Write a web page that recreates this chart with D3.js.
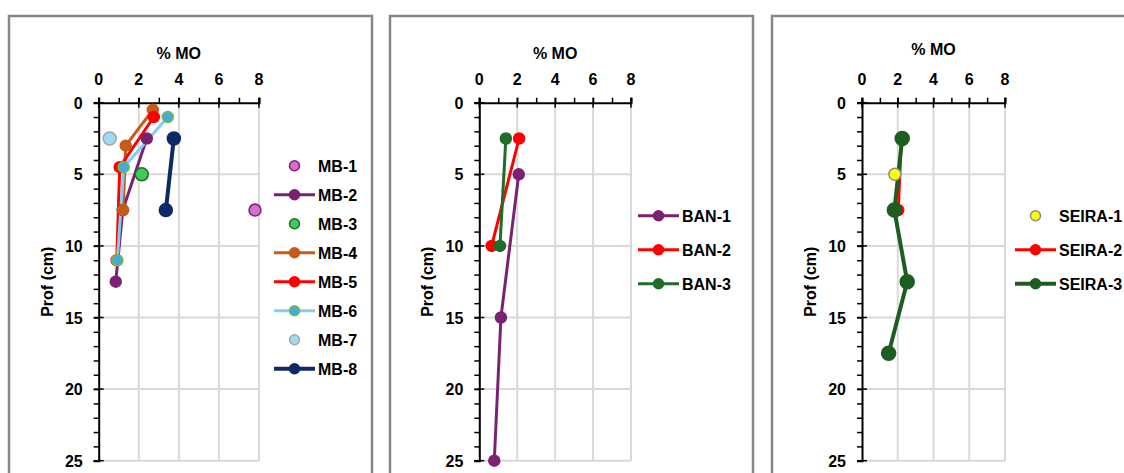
<!DOCTYPE html>
<html>
<head>
<meta charset="utf-8">
<script src="https://cdn.jsdelivr.net/npm/d3@7"></script>
<style>
  body { margin: 0; background: #fff; }
  svg { display: block; font-family: "Liberation Sans", Arial, sans-serif; font-weight: bold; }
</style>
</head>
<body>
<svg width="1124" height="473"></svg>
<script>
// axis ticks
const moTicks = [0, 2, 4, 6, 8];
const depthTicks = [0, 5, 10, 15, 20, 25];

// [ % MO, depth cm ]
const mb1 = [[7.8, 7.5]];
const mb2 = [[2.4, 2.5], [1.2, 7.5], [0.85, 12.5]];
const mb3 = [[2.15, 5.0]];
const mb4 = [[2.7, 0.5], [1.35, 3.0], [1.22, 7.5]];
const mb5 = [[2.75, 1.0], [1.05, 4.5], [0.9, 11.0]];
const mb6 = [[3.45, 1.0], [1.25, 4.5], [0.93, 11.0]];
const mb7 = [[0.55, 2.5]];
const mb8 = [[3.75, 2.5], [3.35, 7.5]];

const ban1 = [[2.08, 5.0], [1.14, 15.0], [0.79, 25.0]];
const ban2 = [[2.1, 2.5], [0.65, 10.0]];
const ban3 = [[1.4, 2.5], [1.09, 10.0]];

const seira1 = [[1.84, 5.0]];
const seira2 = [[2.2, 2.5], [2.03, 7.5]];
const seira3 = [[2.25, 2.5], [1.81, 7.5], [2.53, 12.5], [1.49, 17.5]];

const panels = [
  {
    box: {x: 9, y: 16, w: 363, h: 480},
    plot: {x0: 98.7, x1: 259, y0: 102.7, y1: 460.7},
    titleY: 58.5,
    legend: {x: 274, y: 165.7, step: 29},
    series: [
      {name: 'MB-1', data: mb1, line: null, fill: '#d36fcf', edge: '#7b2171', r: 6},
      {name: 'MB-2', data: mb2, line: '#7b2171', fill: '#7b2171', edge: '#7b2171', r: 5.5, w: 3},
      {name: 'MB-3', data: mb3, line: null, fill: '#3fcb5a', edge: '#1e6e2a', r: 6.5},
      {name: 'MB-4', data: mb4, line: '#c55a1a', fill: '#c55a1a', edge: '#c55a1a', r: 5.5, w: 3},
      {name: 'MB-5', data: mb5, line: '#ff0000', fill: '#ff0000', edge: '#ff0000', r: 5.5, w: 3},
      {name: 'MB-6', data: mb6, line: '#84cdee', fill: '#48a8dc', edge: '#6cc04a', r: 5.5, w: 3},
      {name: 'MB-7', data: mb7, line: null, fill: '#9fdaf2', edge: '#a6a6a6', r: 6.5},
      {name: 'MB-8', data: mb8, line: '#0c2a66', fill: '#0c2a66', edge: '#0c2a66', r: 6.5, w: 4}
    ]
  },
  {
    box: {x: 390, y: 16, w: 363, h: 480},
    plot: {x0: 479.3, x1: 631, y0: 102.7, y1: 460.7},
    titleY: 58.5,
    legend: {x: 638, y: 215.7, step: 34},
    series: [
      {name: 'BAN-1', data: ban1, line: '#7b2171', fill: '#7b2171', edge: '#7b2171', r: 5.5, w: 3},
      {name: 'BAN-2', data: ban2, line: '#ff0000', fill: '#ff0000', edge: '#ff0000', r: 5.5, w: 3},
      {name: 'BAN-3', data: ban3, line: '#1e6e2a', fill: '#1e6e2a', edge: '#1e6e2a', r: 5.5, w: 3}
    ]
  },
  {
    box: {x: 772, y: 16, w: 380, h: 480},
    plot: {x0: 862, x1: 1005, y0: 102.7, y1: 460.7},
    titleY: 55,
    legend: {x: 1015, y: 215.7, step: 34},
    series: [
      {name: 'SEIRA-1', data: seira1, line: null, fill: '#ffff00', edge: '#8c8c8c', r: 6},
      {name: 'SEIRA-2', data: seira2, line: '#ff0000', fill: '#ff0000', edge: '#ff0000', r: 5.5, w: 3},
      {name: 'SEIRA-3', data: seira3, line: '#1d5e20', fill: '#1d5e20', edge: '#1d5e20', r: 7, w: 4}
    ]
  }
];

const svg = d3.select('svg');

panels.forEach(p => {
  svg.append('rect')
    .attr('x', p.box.x).attr('y', p.box.y)
    .attr('width', p.box.w).attr('height', p.box.h)
    .attr('fill', 'none').attr('stroke', '#878787').attr('stroke-width', 2.5);

  const x = d3.scaleLinear().domain([0, 8]).range([p.plot.x0, p.plot.x1]);
  const y = d3.scaleLinear().domain([0, 25]).range([p.plot.y0, p.plot.y1]);
  const g = svg.append('g');

  // gridlines
  g.selectAll('.vgrid').data(moTicks.slice(1)).enter().append('line')
    .attr('x1', d => x(d)).attr('x2', d => x(d))
    .attr('y1', y(0)).attr('y2', y(25))
    .attr('stroke', '#d9d9d9').attr('stroke-width', 2);
  g.selectAll('.hgrid').data(depthTicks.slice(1)).enter().append('line')
    .attr('x1', x(0)).attr('x2', x(8))
    .attr('y1', d => y(d)).attr('y2', d => y(d))
    .attr('stroke', '#d9d9d9').attr('stroke-width', 2);

  // minor ticks (outside only)
  const xAxisMinor = d3.axisTop(x).tickValues(d3.range(0, 9, 1)).tickSize(5).tickFormat('');
  const yAxisMinor = d3.axisLeft(y).tickValues(d3.range(0, 26, 1)).tickSize(5).tickFormat('');
  g.append('g').attr('transform', `translate(0,${y(0)})`).call(xAxisMinor);
  g.append('g').attr('transform', `translate(${x(0)},0)`).call(yAxisMinor);

  // major ticks crossing the axis
  g.selectAll('.xmaj').data(moTicks).enter().append('line')
    .attr('x1', d => x(d)).attr('x2', d => x(d))
    .attr('y1', y(0) - 5).attr('y2', y(0) + 5)
    .attr('stroke', '#000').attr('stroke-width', 1.5);
  g.selectAll('.ymaj').data(depthTicks).enter().append('line')
    .attr('y1', d => y(d)).attr('y2', d => y(d))
    .attr('x1', x(0) - 5).attr('x2', x(0) + 5)
    .attr('stroke', '#000').attr('stroke-width', 1.5);

  g.selectAll('.domain').attr('stroke', '#000').attr('stroke-width', 2);
  g.selectAll('.tick line').attr('stroke', '#000').attr('stroke-width', 1.5);

  // tick labels
  g.selectAll('.xlab').data(moTicks).enter().append('text')
    .attr('x', d => x(d)).attr('y', 85)
    .attr('text-anchor', 'middle').attr('font-size', 16)
    .text(d => d);
  g.selectAll('.ylab').data(depthTicks).enter().append('text')
    .attr('x', x(0) - 16).attr('y', d => y(d) + 6)
    .attr('text-anchor', 'end').attr('font-size', 16)
    .text(d => d);

  // titles
  g.append('text')
    .attr('x', (x(0) + x(8)) / 2).attr('y', p.titleY)
    .attr('text-anchor', 'middle').attr('font-size', 16)
    .text('% MO');
  g.append('text')
    .attr('transform', `translate(${x(0) - 46},${(y(0) + y(25)) / 2}) rotate(-90)`)
    .attr('text-anchor', 'middle').attr('font-size', 16)
    .text('Prof (cm)');

  // series
  const line = d3.line().x(d => x(d[0])).y(d => y(d[1]));
  p.series.forEach(s => {
    if (s.line) {
      g.append('path').datum(s.data)
        .attr('d', line).attr('fill', 'none')
        .attr('stroke', s.line).attr('stroke-width', s.w)
        .attr('stroke-linejoin', 'round');
    }
  });
  p.series.forEach(s => {
    g.selectAll(null).data(s.data).enter().append('circle')
      .attr('cx', d => x(d[0])).attr('cy', d => y(d[1]))
      .attr('r', s.r).attr('fill', s.fill)
      .attr('stroke', s.edge).attr('stroke-width', 1.5);
  });

  // legend
  const lg = g.append('g');
  p.series.forEach((s, i) => {
    const ly = p.legend.y + i * p.legend.step;
    if (s.line) {
      lg.append('line')
        .attr('x1', p.legend.x).attr('x2', p.legend.x + 41)
        .attr('y1', ly).attr('y2', ly)
        .attr('stroke', s.line).attr('stroke-width', s.w);
    }
    lg.append('circle')
      .attr('cx', p.legend.x + 20.5).attr('cy', ly)
      .attr('r', 5).attr('fill', s.fill)
      .attr('stroke', s.edge).attr('stroke-width', 1.5);
    lg.append('text')
      .attr('x', p.legend.x + 44).attr('y', ly + 6)
      .attr('font-size', 16)
      .text(s.name);
  });
});
</script>
</body>
</html>
